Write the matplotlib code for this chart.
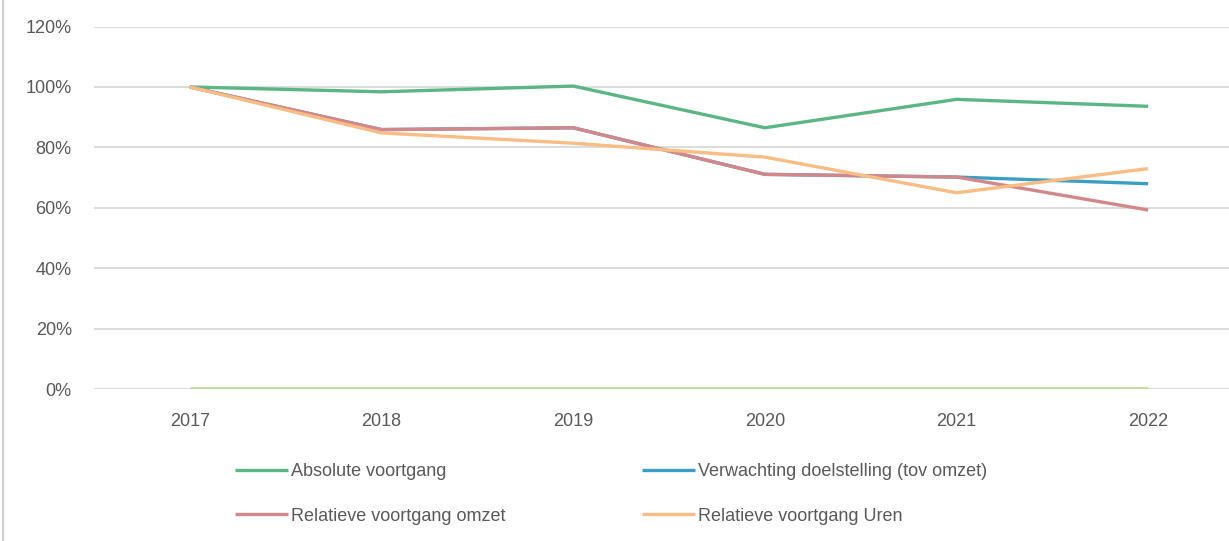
import matplotlib
matplotlib.use("Agg")
import matplotlib.pyplot as plt
from matplotlib.lines import Line2D

years = ['2017', '2018', '2019', '2020', '2021', '2022']
absolute = [100.0, 98.4, 100.3, 86.5, 95.9, 93.6]
verwachting = [100.0, 85.9, 86.5, 71.1, 70.2, 68.0]
rel_omzet = [100.0, 85.9, 86.5, 71.1, 70.2, 59.3]
rel_uren = [100.0, 84.8, 81.4, 76.8, 65.0, 73.0]
baseline = [0.3, 0.3, 0.3, 0.3, 0.3, 0.3]
labels = ['Absolute voortgang', 'Verwachting doelstelling (tov omzet)',
          'Relatieve voortgang omzet', 'Relatieve voortgang Uren']
yticks = [0, 20, 40, 60, 80, 100, 120]

plt.rcParams['font.family'] = ['Liberation Sans', 'DejaVu Sans']

W, H = 1229, 541
fig = plt.figure(figsize=(W / 100, H / 100), dpi=100)
ax = fig.add_axes([94 / W, (H - 389.3) / H, 1150 / W, 362.8 / H])

x = list(range(len(years)))
lw = 2.4
l_base, = ax.plot(x, baseline, color='#bdd79c', lw=1.8, solid_capstyle='butt')
l_abs, = ax.plot(x, absolute, color='#5cb585', lw=lw, solid_capstyle='butt')
l_ver, = ax.plot(x, verwachting, color='#3a9fc3', lw=lw, solid_capstyle='butt')
l_oms, = ax.plot(x, rel_omzet, color='#d4878b', lw=lw, solid_capstyle='butt')
l_ure, = ax.plot(x, rel_uren, color='#f8bc84', lw=lw, solid_capstyle='butt')

ax.set_xlim(-0.5, 5.5)
ax.set_ylim(0, 120)
ax.set_xticks(x)
ax.set_xticklabels(years)
ax.set_yticks(yticks)
ax.set_yticklabels([f'{v}%' for v in yticks])
ax.grid(axis='y', color='#d9d9d9', lw=1.3)
ax.set_axisbelow(True)
for s in ax.spines.values():
    s.set_visible(False)
ax.tick_params(axis='both', length=0, labelsize=13, colors='#595959')
ax.tick_params(axis='x', pad=17)
ax.tick_params(axis='y', pad=16)

leg = fig.legend([l_abs, l_oms, l_ver, l_ure],
                 [labels[0], labels[2], labels[1], labels[3]],
                 ncol=2, loc='upper left', bbox_to_anchor=(228 / W, 1 - 456 / H),
                 frameon=False, fontsize=13, handlelength=2.9, handletextpad=0.17,
                 columnspacing=7.6, labelspacing=1.52, borderaxespad=0)
for t in leg.get_texts():
    t.set_color('#595959')

fig.add_artist(Line2D([2.5 / W, 2.5 / W], [0, 1], color='#d0d0d0', lw=1.5,
                      transform=fig.transFigure))

fig.savefig('out.png', dpi=100)
